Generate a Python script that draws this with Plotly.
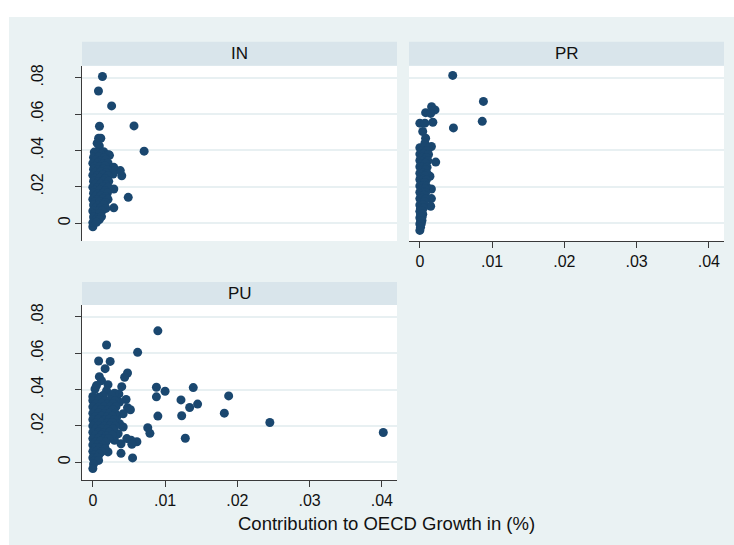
import plotly.graph_objects as go

# ---------------------------------------------------------------------------
# Data: contribution to OECD growth (x) against sector growth (y), by group
# ---------------------------------------------------------------------------
panel_names = ["IN", "PR", "PU"]
x_tick_vals = [0, 0.01, 0.02, 0.03, 0.04]
x_tick_text = ["0", ".01", ".02", ".03", ".04"]
y_tick_vals = [0, 0.02, 0.04, 0.06, 0.08]
y_tick_text = ["0", ".02", ".04", ".06", ".08"]

in_x = [
    0.00133, 0.00078, 0.0026, 0.00092, 0.0057, 0.0071, 0.0049, 0.0029, 0.0040, 0.0038,
    0.0029, 0.0028, 0.0029, 0.0023, 0.0008, 0.0011, 0.0006, 0.0009, 0.0000,
    0.0002, 0.0009, 0.0015,
    0.0005, 0.0012, 0.0019, 0.0022,
    0.0001, 0.0008, 0.0016,
    0.0004, 0.0011, 0.0018,
    0.0000, 0.0007, 0.0014, 0.0021,
    0.0003, 0.0010, 0.0017,
    0.0001, 0.0008, 0.0015, 0.0020,
    0.0004, 0.0011, 0.0018,
    0.0000, 0.0007, 0.0014, 0.0021,
    0.0003, 0.0010, 0.0017,
    0.0001, 0.0008, 0.0015, 0.0022,
    0.0004, 0.0011, 0.0018,
    0.0000, 0.0007, 0.0014, 0.0021,
    0.0003, 0.0010, 0.0017,
    0.0001, 0.0008, 0.0015, 0.0020,
    0.0004, 0.0011, 0.0018,
    0.0000, 0.0007, 0.0014, 0.0021,
    0.0003, 0.0010, 0.0017,
    0.0001, 0.0008, 0.0015,
    0.0004, 0.0011, 0.0018,
    0.0000, 0.0007, 0.0013,
    0.0003, 0.0009,
    0.0001, 0.0007, 0.0012,
    0.0004, 0.0009,
    0.0000, 0.0005,
]
in_y = [
    0.0807, 0.0727, 0.0645, 0.0533, 0.0535, 0.0396, 0.0142, 0.0084, 0.0261, 0.0289,
    0.0307, 0.0270, 0.0188, 0.0373, 0.0467, 0.0467, 0.0440, 0.0425, -0.0020,
    0.0391, 0.0388, 0.0393,
    0.0378, 0.0381, 0.0376, 0.0377,
    0.0362, 0.0365, 0.0360,
    0.0346, 0.0343, 0.0348,
    0.0330, 0.0333, 0.0328, 0.0331,
    0.0313, 0.0310, 0.0315,
    0.0297, 0.0295, 0.0299, 0.0294,
    0.0280, 0.0283, 0.0278,
    0.0264, 0.0262, 0.0266, 0.0261,
    0.0247, 0.0249, 0.0245,
    0.0231, 0.0229, 0.0233, 0.0230,
    0.0214, 0.0216, 0.0212,
    0.0198, 0.0196, 0.0200, 0.0197,
    0.0181, 0.0183, 0.0179,
    0.0165, 0.0163, 0.0167, 0.0164,
    0.0149, 0.0151, 0.0147,
    0.0132, 0.0130, 0.0134, 0.0131,
    0.0116, 0.0118, 0.0114,
    0.0100, 0.0098, 0.0102,
    0.0083, 0.0085, 0.0081,
    0.0067, 0.0065, 0.0069,
    0.0050, 0.0052,
    0.0034, 0.0029, 0.0036,
    0.0018, 0.0020,
    0.0003, 0.0005,
]

pr_x = [
    0.00455, 0.0088, 0.00864, 0.00465,
    0.00163, 0.0021, 0.0008, 0.0015,
    0.0000, 0.0007, 0.0018,
    0.0004, 0.0008, 0.0007,
    0.0016, 0.0022, 0.0014, 0.0016, 0.0016, 0.0015,
    0.0000, 0.0007, 0.0012,
    0.0003, 0.0010,
    0.0000, 0.0006, 0.0012,
    0.0003, 0.0009,
    0.0000, 0.0006, 0.0011,
    0.0002, 0.0008,
    0.0000, 0.0005, 0.0010,
    0.0002, 0.0008,
    0.0000, 0.0005, 0.0010,
    0.0002, 0.0007,
    0.0000, 0.0005, 0.0009,
    0.0002, 0.0007,
    0.0000, 0.0005, 0.0009,
    0.0002, 0.0007,
    0.0000, 0.0005, 0.0008,
    0.0002, 0.0006,
    0.0000, 0.0004, 0.0008,
    0.0002, 0.0006,
    0.0000, 0.0004,
    0.0001, 0.0005,
    0.0000, 0.0003,
    0.0001, 0.0004,
    0.0000, 0.0003,
    0.0001, 0.0003,
    0.0000, 0.0002,
    0.0001,
    0.0000,
]
pr_y = [
    0.0813, 0.0670, 0.0560, 0.0524,
    0.0641, 0.0623, 0.0608, 0.0604,
    0.0550, 0.0550, 0.0555,
    0.0504, 0.0467, 0.0440,
    0.0422, 0.0336, 0.0258, 0.0188, 0.0135, 0.0093,
    0.0415, 0.0417, 0.0413,
    0.0398, 0.0400,
    0.0380, 0.0382, 0.0378,
    0.0363, 0.0361,
    0.0345, 0.0347, 0.0343,
    0.0327, 0.0329,
    0.0310, 0.0312, 0.0308,
    0.0292, 0.0294,
    0.0275, 0.0277, 0.0273,
    0.0257, 0.0259,
    0.0240, 0.0242, 0.0238,
    0.0222, 0.0224,
    0.0205, 0.0207, 0.0203,
    0.0187, 0.0189,
    0.0170, 0.0172, 0.0168,
    0.0152, 0.0154,
    0.0135, 0.0137, 0.0133,
    0.0117, 0.0119,
    0.0100, 0.0102,
    0.0082, 0.0084,
    0.0065, 0.0067,
    0.0047, 0.0049,
    0.0030, 0.0032,
    0.0012, 0.0014,
    -0.0005, -0.0003,
    -0.0022,
    -0.0040,
]

pu_x = [
    0.0090, 0.0019, 0.0062, 0.0008, 0.0024, 0.0017, 0.0048, 0.0044, 0.0009,
    0.0088, 0.0100, 0.0139, 0.0088, 0.0122, 0.0188, 0.0145, 0.0134, 0.0182, 0.0090,
    0.0123, 0.0245, 0.0402, 0.0128, 0.0076, 0.0079,
    0.0061, 0.0055, 0.0039, 0.0021,
    0.0040, 0.0036, 0.0030, 0.0046, 0.0048, 0.0052, 0.0037, 0.0042, 0.0033,
    0.0037, 0.0042, 0.0035, 0.0047, 0.0053, 0.0054, 0.0039, 0.0030,
    0.0012, 0.0003, 0.0005, 0.0021, 0.0019, 0.0014, 0.0026, 0.0000, 0.0008,
    0.0000, 0.0008, 0.0016, 0.0024, 0.0031,
    0.0004, 0.0012, 0.0020, 0.0028,
    0.0000, 0.0008, 0.0016, 0.0024, 0.0032,
    0.0004, 0.0012, 0.0020, 0.0028,
    0.0000, 0.0008, 0.0016, 0.0024, 0.0031,
    0.0004, 0.0012, 0.0020, 0.0027,
    0.0000, 0.0008, 0.0016, 0.0023, 0.0030,
    0.0004, 0.0012, 0.0020, 0.0027,
    0.0000, 0.0008, 0.0016, 0.0024, 0.0031,
    0.0004, 0.0012, 0.0020, 0.0028,
    0.0000, 0.0008, 0.0016, 0.0023,
    0.0004, 0.0012, 0.0019, 0.0027,
    0.0000, 0.0008, 0.0015, 0.0022,
    0.0004, 0.0011, 0.0018,
    0.0000, 0.0007, 0.0014,
    0.0003, 0.0010, 0.0017,
    0.0000, 0.0006, 0.0012,
    0.0003, 0.0009,
    0.0000, 0.0006,
    0.0002, 0.0008,
    0.0001,
    0.0000,
]
pu_y = [
    0.0723, 0.0645, 0.0605, 0.0557, 0.0555, 0.0515, 0.0491, 0.0468, 0.0471,
    0.0413, 0.0391, 0.0411, 0.0360, 0.0343, 0.0365, 0.0320, 0.0301, 0.0270, 0.0254,
    0.0256, 0.0219, 0.0164, 0.0132, 0.0190, 0.0159,
    0.0113, 0.0024, 0.0049, 0.0057,
    0.0416, 0.0376, 0.0380, 0.0345, 0.0300, 0.0289, 0.0331, 0.0267, 0.0249,
    0.0212, 0.0194, 0.0157, 0.0130, 0.0121, 0.0099, 0.0102, 0.0121,
    0.0449, 0.0403, 0.0422, 0.0427, 0.0394, 0.0367, 0.0367, 0.0362, 0.0358,
    0.0340, 0.0342, 0.0338, 0.0341, 0.0339,
    0.0322, 0.0324, 0.0320, 0.0323,
    0.0305, 0.0303, 0.0307, 0.0304, 0.0306,
    0.0288, 0.0290, 0.0286, 0.0289,
    0.0270, 0.0272, 0.0268, 0.0271, 0.0269,
    0.0252, 0.0254, 0.0250, 0.0253,
    0.0235, 0.0237, 0.0233, 0.0236, 0.0234,
    0.0218, 0.0220, 0.0216, 0.0219,
    0.0200, 0.0202, 0.0198, 0.0201, 0.0199,
    0.0183, 0.0185, 0.0181, 0.0184,
    0.0165, 0.0167, 0.0163, 0.0166,
    0.0148, 0.0150, 0.0146, 0.0149,
    0.0130, 0.0132, 0.0128, 0.0131,
    0.0113, 0.0115, 0.0111,
    0.0095, 0.0097, 0.0093,
    0.0078, 0.0080, 0.0076,
    0.0060, 0.0062, 0.0058,
    0.0043, 0.0045,
    0.0025, 0.0027,
    0.0008, 0.0010,
    -0.0010,
    -0.0035,
]

assert len(in_x) == len(in_y) and len(pr_x) == len(pr_y) and len(pu_x) == len(pu_y)

# ---------------------------------------------------------------------------
# Styling and layout geometry (pixel positions on a 734 x 545 canvas)
# ---------------------------------------------------------------------------
W, H = 734, 545
FONT = "Arial, Liberation Sans, sans-serif"
NAVY = "#1A476F"
REGION = "#EAF2F3"
STRIP = "#D9E5EB"
GRID = "#E8F0F2"
AXIS = "#3A3A3A"


def fx(p):
    return p / W


def fy(p):
    return 1 - p / H


X_RANGE = [-0.0015, 0.0421]
Y_RANGE = [-0.0099, 0.0866]

left_dom = [fx(82), fx(397)]
right_dom = [fx(409), fx(724)]
top_dom = [fy(240), fy(64)]
bot_dom = [fy(480), fy(304)]

fig = go.Figure()

marker = dict(color=NAVY, size=9, line=dict(width=0))
fig.add_trace(go.Scatter(x=in_x, y=in_y, mode="markers", marker=marker,
                         xaxis="x", yaxis="y", showlegend=False))
fig.add_trace(go.Scatter(x=pr_x, y=pr_y, mode="markers", marker=marker,
                         xaxis="x2", yaxis="y2", showlegend=False))
fig.add_trace(go.Scatter(x=pu_x, y=pu_y, mode="markers", marker=marker,
                         xaxis="x3", yaxis="y3", showlegend=False))
# empty traces binding the overlay axes that carry the "0" labels
fig.add_trace(go.Scatter(x=[], y=[], xaxis="x", yaxis="y4", showlegend=False))
fig.add_trace(go.Scatter(x=[], y=[], xaxis="x3", yaxis="y5", showlegend=False))

tick_font = dict(family=FONT, size=16, color="#111")

y_main_text = [""] + y_tick_text[1:]


def y_axis_main(domain, anchor, show_labels):
    return dict(
        domain=domain, anchor=anchor, range=Y_RANGE, autorange=False,
        tickmode="array", tickvals=y_tick_vals,
        ticktext=y_main_text if show_labels else [""] * len(y_tick_vals),
        showticklabels=show_labels, tickangle=-90, tickfont=tick_font,
        ticks="outside" if show_labels else "", ticklen=6, tickwidth=1, tickcolor=AXIS,
        ticklabelstandoff=26,
        showline=show_labels, linecolor=AXIS, linewidth=1,
        showgrid=True, gridcolor=GRID, gridwidth=1.5, zeroline=False,
    )


def y_axis_zero(overlay, anchor):
    return dict(
        overlaying=overlay, anchor=anchor, range=Y_RANGE, autorange=False,
        tickmode="array", tickvals=[y_tick_vals[0]], ticktext=[y_tick_text[0]],
        tickangle=-90, tickfont=tick_font, ticks="", ticklabelstandoff=8,
        showline=False, showgrid=False, zeroline=False,
    )


def x_axis(domain, anchor, show_labels):
    return dict(
        domain=domain, anchor=anchor, range=X_RANGE, autorange=False,
        tickmode="array", tickvals=x_tick_vals, ticktext=x_tick_text,
        showticklabels=show_labels, tickfont=tick_font,
        ticks="outside" if show_labels else "", ticklen=6, tickwidth=1, tickcolor=AXIS,
        ticklabelstandoff=0,
        showline=show_labels, linecolor=AXIS, linewidth=1,
        showgrid=False, zeroline=False,
    )


fig.update_layout(
    width=W, height=H,
    margin=dict(l=0, r=0, t=0, b=0),
    paper_bgcolor="white", plot_bgcolor="white",
    font=dict(family=FONT, color="#111"),
    xaxis=x_axis(left_dom, "y", False),
    yaxis=y_axis_main(top_dom, "x", True),
    xaxis2=x_axis(right_dom, "y2", True),
    yaxis2=y_axis_main(top_dom, "x2", False),
    xaxis3=x_axis(left_dom, "y3", True),
    yaxis3=y_axis_main(bot_dom, "x3", True),
    yaxis4=y_axis_zero("y", "x"),
    yaxis5=y_axis_zero("y3", "x3"),
)

# graph region, plot backgrounds and panel strips
shapes = [
    dict(type="rect", xref="paper", yref="paper", x0=fx(9), x1=fx(734), y0=fy(545), y1=fy(15),
         fillcolor=REGION, line=dict(width=0), layer="below"),
]
for x0, x1, y0, y1 in [(82, 397, 64, 240), (409, 724, 64, 240), (82, 397, 304, 480)]:
    shapes.append(dict(type="rect", xref="paper", yref="paper",
                       x0=fx(x0), x1=fx(x1), y0=fy(y1), y1=fy(y0),
                       fillcolor="white", line=dict(width=0), layer="below"))
strip_boxes = [(82, 397, 40, 64), (409, 724, 40, 64), (82, 397, 281, 304)]
for x0, x1, y0, y1 in strip_boxes:
    shapes.append(dict(type="rect", xref="paper", yref="paper",
                       x0=fx(x0), x1=fx(x1), y0=fy(y1), y1=fy(y0),
                       fillcolor=STRIP, line=dict(width=0), layer="below"))
fig.update_layout(shapes=shapes)

annotations = []
for name, (x0, x1, y0, y1) in zip(panel_names, strip_boxes):
    annotations.append(dict(text=name, xref="paper", yref="paper",
                            x=fx((x0 + x1) / 2), y=fy((y0 + y1) / 2),
                            xanchor="center", yanchor="middle", showarrow=False,
                            font=dict(family=FONT, size=17, color="#111")))
annotations.append(dict(text="Contribution to OECD Growth in (%)", xref="paper", yref="paper",
                        x=fx(387), y=fy(523), xanchor="center", yanchor="middle",
                        showarrow=False, font=dict(family=FONT, size=18.5, color="#111")))
fig.update_layout(annotations=annotations)

fig.write_html("out.html")
